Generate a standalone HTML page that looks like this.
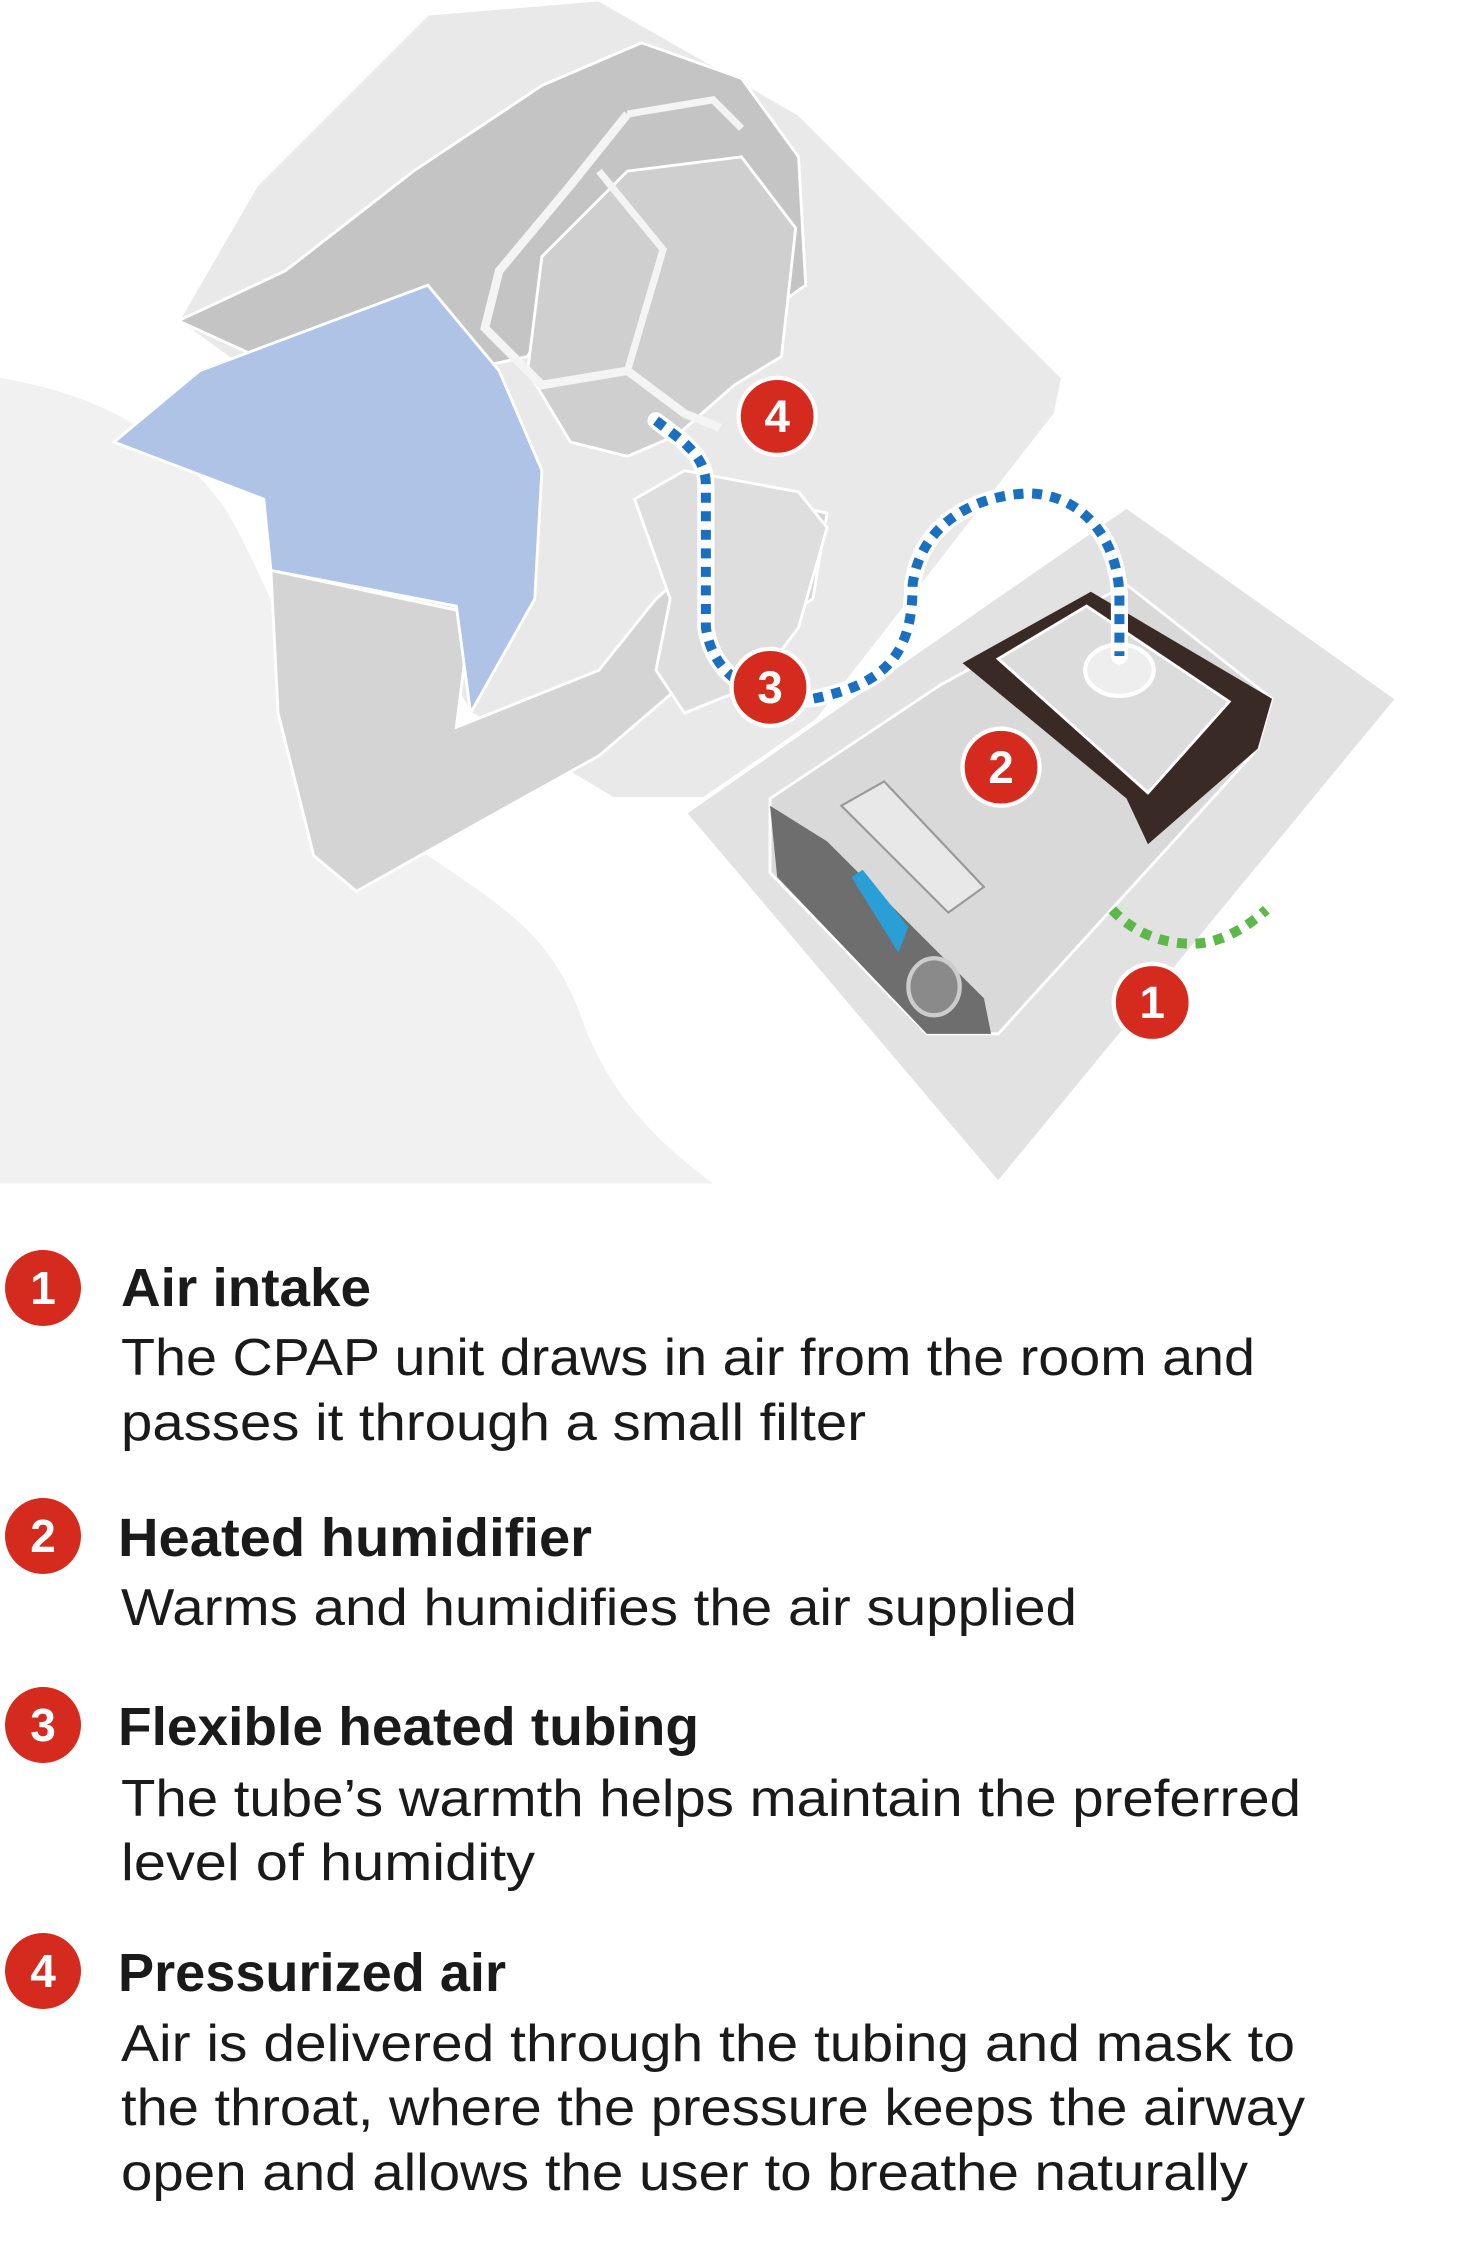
<!DOCTYPE html>
<html><head><meta charset="utf-8"><style>
html,body{margin:0;padding:0;background:#fff;}
svg{display:block}
</style></head><body>
<svg width="1460" height="2266" viewBox="0 0 1460 2266" xmlns="http://www.w3.org/2000/svg">
<g transform="scale(1.426)">
  <path d="M125,225 L180,130 L300,10 L420,0 L560,80 L650,170 L745,265 L740,290 L600,470 L530,560 L430,560 L330,500 L200,280 Z" fill="#e9e9e9" stroke="#fff" stroke-width="2"/>
  <path d="M0,265 C60,275 120,300 160,360 C200,430 230,540 300,600 C360,640 390,660 410,720 C430,770 460,800 500,830 L0,830 Z" fill="#f1f1f1"/>
  <path d="M190,400 L330,430 L320,510 L420,470 L460,420 L540,350 L580,360 L570,420 L490,470 L420,530 L330,580 L250,625 L220,600 L195,500 Z" fill="#d4d4d4" stroke="#fff" stroke-width="2"/>
  <path d="M445,350 L480,330 L560,345 L580,370 L560,440 L530,480 L480,500 L460,470 L470,420 Z" fill="#dedede" stroke="#fff" stroke-width="2"/>
  <path d="M125,225 L200,190 L290,120 L380,60 L450,30 L520,55 L560,110 L565,200 L530,225 L470,170 L420,160 L370,250 L300,265 L180,250 Z" fill="#c4c4c4" stroke="#fff" stroke-width="2"/>
  <path d="M440,120 L520,110 L558,160 L548,250 L515,270 L475,305 L440,320 L400,310 L370,260 L380,180 Z" fill="#cfcfcf" stroke="#fff" stroke-width="2"/>
  <path d="M80,310 L140,260 L300,200 L350,260 L380,330 L375,420 L330,500 L320,425 L190,400 L185,350 Z" fill="#aec3e6" stroke="#fff" stroke-width="2"/>
  <path d="M440,80 L400,130 L350,190 L340,230 L380,270 L440,260 L480,290 L505,300" fill="none" stroke="#f4f4f4" stroke-width="6"/>
  <path d="M440,80 L500,70 L520,90" fill="none" stroke="#f4f4f4" stroke-width="5"/>
  <path d="M420,120 L465,175 L440,260" fill="none" stroke="#f4f4f4" stroke-width="5"/>
  <path d="M480,570 L790,355 L980,490 L700,830 Z" fill="#e2e2e2" stroke="#fff" stroke-width="3"/>
  <path d="M540,560 L660,480 L790,410 L892,490 L882,525 L700,725 L650,725 L540,612 Z" fill="#d9d9d9" stroke="#fff" stroke-width="2"/>
  <path d="M540,565 L545,615 L650,725 L695,725 L690,700 L580,590 Z" fill="#6e6e6e"/>
  <path d="M675,465 L765,415 L892,490 L882,525 L805,592 L790,560 Z" fill="#3a2a26"/>
  <path d="M700,462 L762,425 L862,492 L805,556 Z" fill="#dcdcdc" stroke="#fff" stroke-width="2"/>
  <path d="M590,565 L620,548 L690,622 L665,640 Z" fill="#e8e8e8" stroke="#999" stroke-width="1.5"/>
  <path d="M597,615 L605,610 L637,650 L630,668 Z" fill="#2a9fd6"/>
  <ellipse cx="655" cy="692" rx="18" ry="20" fill="#8a8a8a" stroke="#ccc" stroke-width="3"/>
  <ellipse cx="785" cy="470" rx="24" ry="18" fill="#eee" stroke="#fff" stroke-width="3"/>
  <path d="M460,295 C480,310 495,320 495,340 L495,440 C500,475 530,492 570,490 C620,480 640,460 640,410 C645,370 680,348 720,346 C760,346 785,380 785,420 L785,460" fill="none" stroke="#fff" stroke-width="12" stroke-linecap="round"/>
  <path d="M460,295 C480,310 495,320 495,340 L495,440 C500,475 530,492 570,490 C620,480 640,460 640,410 C645,370 680,348 720,346 C760,346 785,380 785,420 L785,460" fill="none" stroke="#1a6fc0" stroke-width="7" stroke-dasharray="7 6"/>
  <path d="M780,638 C800,660 830,665 850,660 C868,655 880,645 888,638" fill="none" stroke="#5db84a" stroke-width="7" stroke-dasharray="7 6"/>
  <g font-family="Liberation Sans, sans-serif" font-weight="bold" font-size="32" fill="#fff" text-anchor="middle">
    <circle cx="545" cy="292" r="27" fill="#d52b1e" stroke="#fff" stroke-width="3"/><text x="545" y="303">4</text>
    <circle cx="540" cy="482" r="27" fill="#d52b1e" stroke="#fff" stroke-width="3"/><text x="540" y="493">3</text>
    <circle cx="702" cy="538" r="27" fill="#d52b1e" stroke="#fff" stroke-width="3"/><text x="702" y="549">2</text>
    <circle cx="808" cy="703" r="27" fill="#d52b1e" stroke="#fff" stroke-width="3"/><text x="808" y="714">1</text>
  </g>
</g>
<g transform="translate(0,17)">
<g font-family="Liberation Sans, sans-serif" font-weight="bold" font-size="46" fill="#fff" text-anchor="middle">
  <circle cx="43" cy="1271" r="38" fill="#d52b1e"/><text x="43" y="1287">1</text>
  <circle cx="43" cy="1519" r="38" fill="#d52b1e"/><text x="43" y="1535">2</text>
  <circle cx="43" cy="1708" r="38" fill="#d52b1e"/><text x="43" y="1724">3</text>
  <circle cx="43" cy="1954" r="38" fill="#d52b1e"/><text x="43" y="1970">4</text>
</g>
<g font-family="Liberation Sans, sans-serif" font-weight="bold" font-size="54" fill="#1a1a1a">
  <text x="121" y="1289" textLength="250" lengthAdjust="spacingAndGlyphs">Air intake</text>
  <text x="118" y="1539" textLength="474" lengthAdjust="spacingAndGlyphs">Heated humidifier</text>
  <text x="118" y="1728" textLength="581" lengthAdjust="spacingAndGlyphs">Flexible heated tubing</text>
  <text x="118" y="1974" textLength="388" lengthAdjust="spacingAndGlyphs">Pressurized air</text>
</g>
<g font-family="Liberation Sans, sans-serif" font-size="52" fill="#1a1a1a">
  <text x="121" y="1358" textLength="1134" lengthAdjust="spacingAndGlyphs">The CPAP unit draws in air from the room and</text>
  <text x="121" y="1423" textLength="745" lengthAdjust="spacingAndGlyphs">passes it through a small filter</text>
  <text x="121" y="1608" textLength="956" lengthAdjust="spacingAndGlyphs">Warms and humidifies the air supplied</text>
  <text x="121" y="1799" textLength="1180" lengthAdjust="spacingAndGlyphs">The tube’s warmth helps maintain the preferred</text>
  <text x="121" y="1863" textLength="414" lengthAdjust="spacingAndGlyphs">level of humidity</text>
  <text x="121" y="2044" textLength="1174" lengthAdjust="spacingAndGlyphs">Air is delivered through the tubing and mask to</text>
  <text x="121" y="2108" textLength="1184" lengthAdjust="spacingAndGlyphs">the throat, where the pressure keeps the airway</text>
  <text x="121" y="2173" textLength="1127" lengthAdjust="spacingAndGlyphs">open and allows the user to breathe naturally</text>
</g>
</g>
</svg>
</body></html>
